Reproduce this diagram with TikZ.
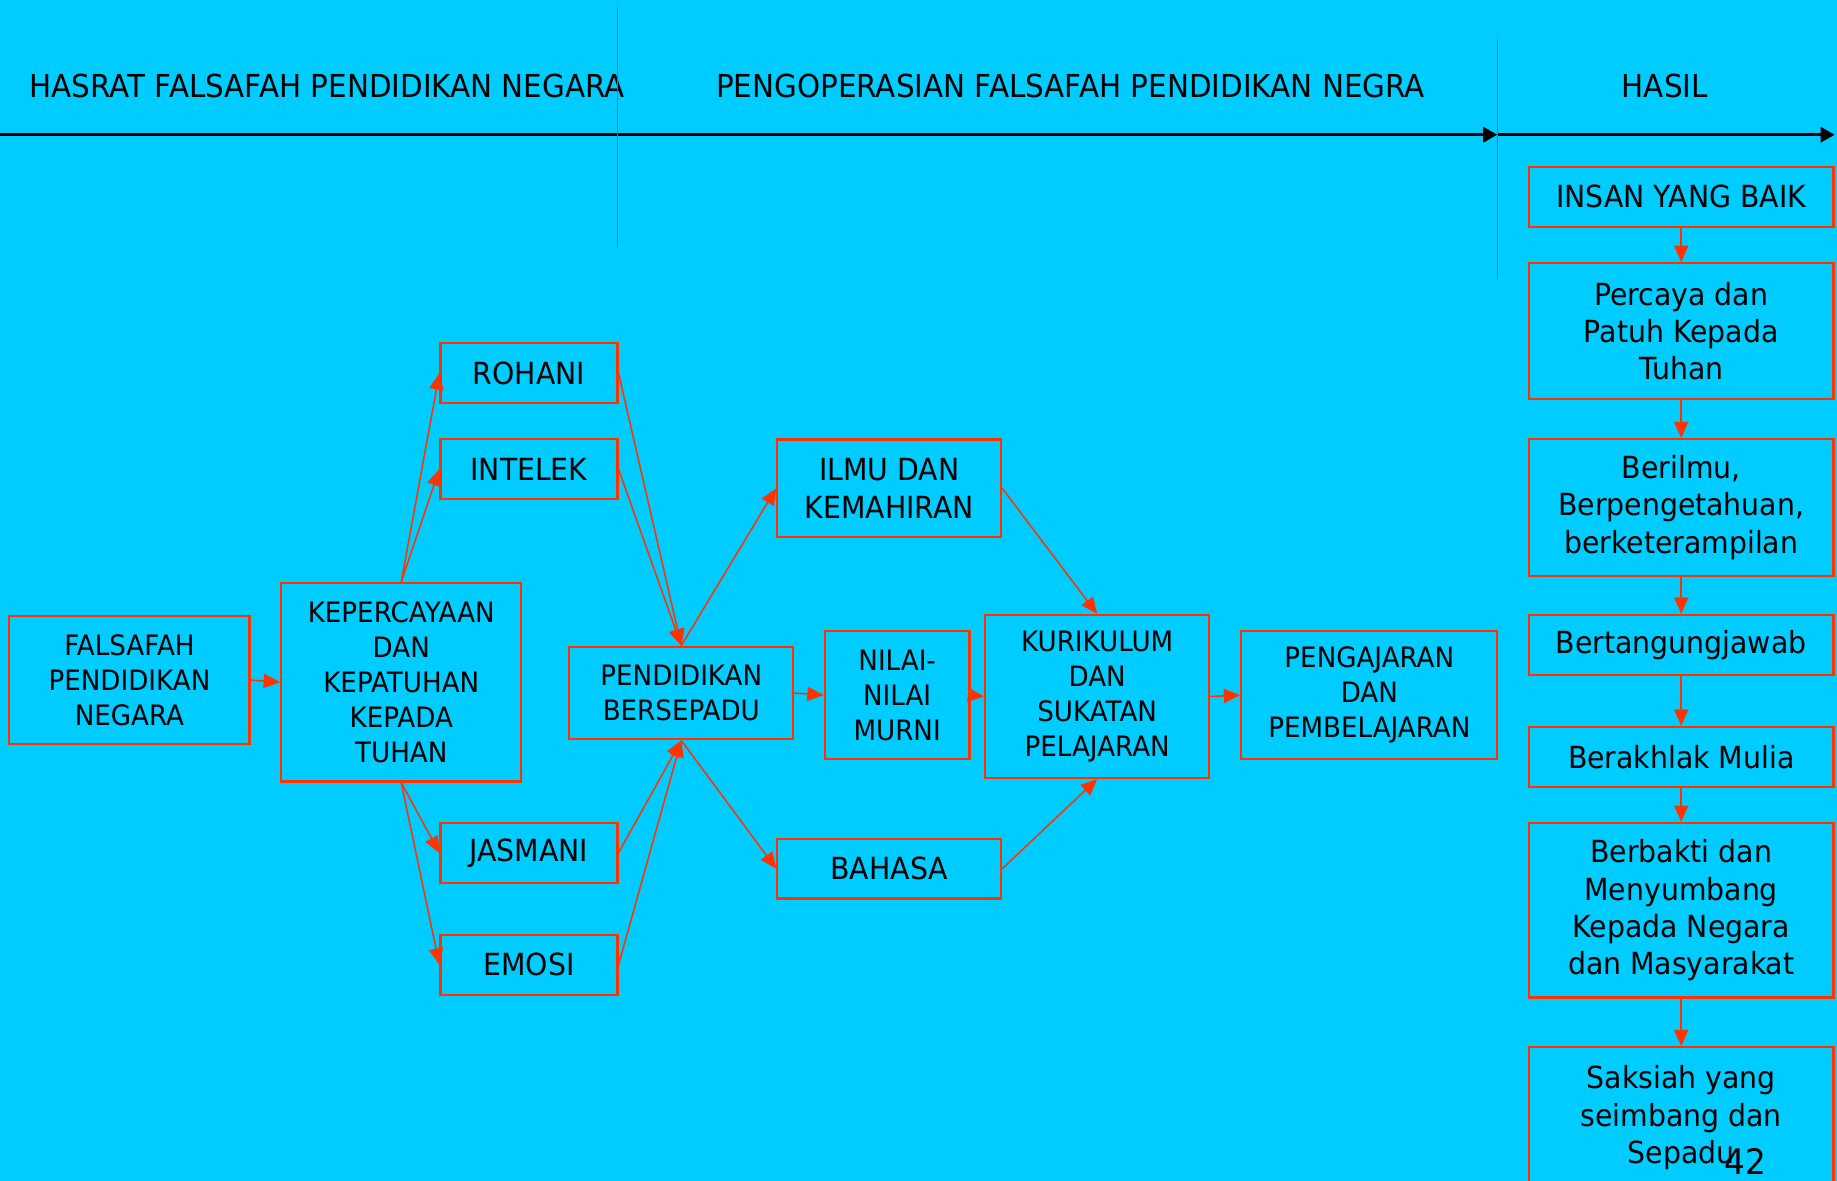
\documentclass[tikz,border=0pt]{standalone}
\usepackage{fontspec}
\setmainfont[FakeStretch=0.93]{DejaVu Sans}
\usetikzlibrary{arrows.meta}
\definecolor{bg}{RGB}{0,204,255}
\definecolor{rd}{RGB}{255,51,0}
\begin{document}
\begin{tikzpicture}[x=1pt,y=-1pt,
  box/.style={draw=rd, line width=1.9pt, rectangle, inner sep=0pt, align=center, text=black},
  sm/.style={font=\fontsize{24pt}{29.8pt}\selectfont},
  lg/.style={font=\fontsize{26pt}{31.8pt}\selectfont},
  ttl/.style={font=\fontsize{27pt}{31pt}\selectfont, inner sep=0pt},
  link/.style={draw=rd, line width=1.3pt, -{Triangle[length=14pt,width=12pt]}},
  axis/.style={draw=black, line width=2.2pt, -{Triangle[length=12pt,width=13pt]}},
  divider/.style={draw=rd, line width=0.9pt}
]
\fill[bg] (0,0) rectangle (1568,1008);
\useasboundingbox (0,0) rectangle (1568,1008);

% header
\node[ttl, anchor=west] (t1) at (25,73) {HASRAT FALSAFAH PENDIDIKAN NEGARA};
\node[ttl, anchor=west] (t2) at (611,73) {PENGOPERASIAN FALSAFAH PENDIDIKAN NEGRA};
\node[ttl] (t3) at (1421,73) {HASIL};
\coordinate (a0) at (0,115);
\coordinate (a1) at (1278,115);
\coordinate (a2) at (1566,115);
\draw[axis] (a0) -- (a1);
\draw[axis] (a1) -- (a2);
\coordinate (d1t) at (527,6);
\coordinate (d1b) at (527,211);
\coordinate (d2t) at (1278,33);
\coordinate (d2b) at (1278,238);
\draw[divider] (d1t) -- (d1b);
\draw[divider] (d2t) -- (d2b);

% left / middle diagram
\node[box,sm,minimum width=205pt,minimum height=109pt] (fpn) at (110.5,580.5) {FALSAFAH\\PENDIDIKAN\\NEGARA};
\node[box,sm,minimum width=205pt,minimum height=169.5pt] (kep) at (342.5,582.3) {KEPERCAYAAN\\DAN\\KEPATUHAN\\KEPADA\\TUHAN};
\node[box,lg,minimum width=151pt,minimum height=51pt] (roh) at (451.5,318.5) {ROHANI};
\node[box,lg,minimum width=151pt,minimum height=51pt] (int) at (451.5,400.5) {INTELEK};
\node[box,lg,minimum width=151pt,minimum height=51pt] (jas) at (451.5,728) {JASMANI};
\node[box,lg,minimum width=151pt,minimum height=51pt] (emo) at (451.5,823.5) {EMOSI};
\node[box,sm,minimum width=191pt,minimum height=79pt] (pb) at (581.5,591.5) {PENDIDIKAN\\BERSEPADU};
\node[box,lg,minimum width=191pt,minimum height=83.5pt] (ilm) at (759,416.8) {ILMU DAN\\KEMAHIRAN};
\node[box,sm,minimum width=123.5pt,minimum height=109.4pt] (nil) at (765.8,593.3) {NILAI-\\NILAI\\MURNI};
\node[box,lg,minimum width=191pt,minimum height=51pt] (bah) at (759,741.5) {BAHASA};
\node[box,sm,minimum width=191pt,minimum height=139pt] (kur) at (936.5,594.5) {KURIKULUM\\DAN\\SUKATAN\\PELAJARAN};
\node[box,sm,minimum width=218.5pt,minimum height=109.4pt] (pen) at (1168.8,593.3) {PENGAJARAN\\DAN\\PEMBELAJARAN};

\draw[link] (fpn.east) -- (kep.west);
\draw[link] (kep.north) -- (roh.west);
\draw[link] (kep.north) -- (int.west);
\draw[link] (kep.south) -- (jas.west);
\draw[link] (kep.south) -- (emo.west);
\draw[link] (roh.east) -- (pb.north);
\draw[link] (int.east) -- (pb.north);
\draw[link] (jas.east) -- (pb.south);
\draw[link] (emo.east) -- (pb.south);
\draw[link] (pb.north) -- (ilm.west);
\draw[link] (pb.south) -- (bah.west);
\draw[link] (pb.east) -- (nil.west);
\draw[link] (nil.east) -- (kur.west);
\draw[link] (ilm.east) -- (kur.north);
\draw[link] (bah.east) -- (kur.south);
\draw[link] (kur.east) -- (pen.west);

% right column
\node[box,lg,minimum width=260pt,minimum height=51pt] (r1) at (1435,168) {INSAN YANG BAIK};
\node[box,lg,minimum width=260pt,minimum height=116pt] (r2) at (1435,282.7) {Percaya dan\\Patuh Kepada\\Tuhan};
\node[box,lg,minimum width=260pt,minimum height=116.4pt] (r3) at (1435,433.2) {Berilmu,\\Berpengetahuan,\\berketerampilan};
\node[box,lg,minimum width=260pt,minimum height=51.3pt] (r4) at (1435,550.6) {Bertangungjawab};
\node[box,lg,minimum width=260pt,minimum height=51pt] (r5) at (1435,646) {Berakhlak Mulia};
\node[box,lg,minimum width=260pt,minimum height=149pt] (r6) at (1435,777) {Berbakti dan\\Menyumbang\\Kepada Negara\\dan Masyarakat};
\node[box,lg,minimum width=260pt,minimum height=120pt] (r7) at (1435,954) {Saksiah yang\\seimbang dan\\Sepadu};
\draw[link] (r1.south) -- (r2.north);
\draw[link] (r2.south) -- (r3.north);
\draw[link] (r3.south) -- (r4.north);
\draw[link] (r4.south) -- (r5.north);
\draw[link] (r5.south) -- (r6.north);
\draw[link] (r6.south) -- (r7.north);

\node[font=\fontsize{30pt}{30pt}\selectfont, inner sep=0pt] (pg) at (1490,991) {42};
\end{tikzpicture}
\end{document}
